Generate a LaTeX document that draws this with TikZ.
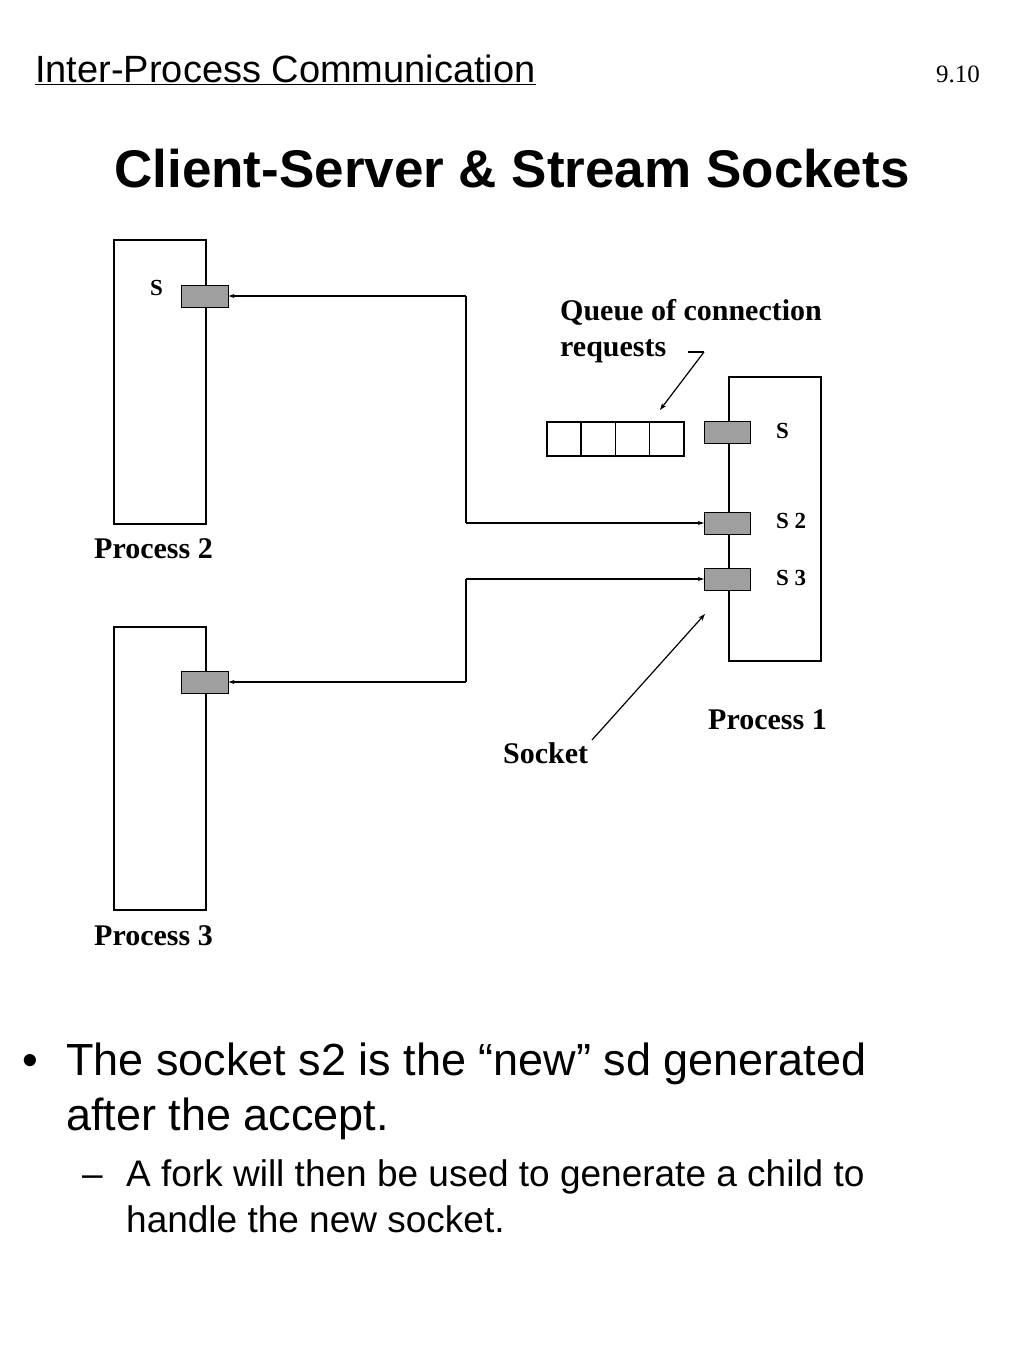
\documentclass[tikz,border=0pt]{standalone}
\usepackage{fontspec}
\setmainfont{Liberation Serif}
\newfontfamily\sansf{Liberation Sans}
\usetikzlibrary{arrows.meta}
\begin{document}
\begin{tikzpicture}[x=1pt,y=-1pt,
  proc/.style={draw,line width=1.6pt},
  sock/.style={draw,line width=1pt,fill=gray!75},
  wire/.style={line width=1.6pt},
  arr/.style={wire,-{Stealth[length=6pt,width=4pt]}},
  lbl/.style={font=\fontsize{30}{34}\selectfont\bfseries,anchor=base west,inner sep=0},
  slbl/.style={font=\fontsize{23}{27}\selectfont\bfseries,anchor=base west,inner sep=0},
  big/.style={anchor=base west,inner sep=0,font=\sansf\fontsize{45}{54}\selectfont},
  mid/.style={anchor=base west,inner sep=0,font=\sansf\fontsize{37}{45}\selectfont}]
\useasboundingbox (0,0) rectangle (1024,1365);
% header
\node[anchor=base west,inner sep=0,font=\sansf\fontsize{38}{42}\selectfont] (hdr) at (35,82) {\underline{Inter-Process Communication}};
\node[anchor=base east,inner sep=0,font=\fontsize{25}{28}\selectfont] (num) at (980,82) {9.10};
\node[anchor=base,inner sep=0,font=\sansf\bfseries\fontsize{53}{58}\selectfont] (title) at (512,187) {Client-Server \& Stream Sockets};
% process 2
\node[proc,minimum width=92,minimum height=284,anchor=north west,inner sep=0] (p2) at (113,239) {};
\node[sock,minimum width=47,minimum height=22,inner sep=0] (s2a) at (204.5,296) {};
\node[slbl] (s2l) at (150,295) {S};
\node[lbl] (p2l) at (94,558) {Process 2};
% process 3
\node[proc,minimum width=92,minimum height=283,anchor=north west,inner sep=0] (p3) at (113,626) {};
\node[sock,minimum width=47,minimum height=22,inner sep=0] (s3a) at (204.5,682) {};
\node[lbl] (p3l) at (94,945) {Process 3};
% process 1
\node[proc,minimum width=92,minimum height=284,anchor=north west,inner sep=0] (p1) at (728,376) {};
\node[sock,minimum width=46,minimum height=22,inner sep=0] (s1) at (727.5,432) {};
\node[sock,minimum width=46,minimum height=22,inner sep=0] (s12) at (727.5,523) {};
\node[sock,minimum width=46,minimum height=22,inner sep=0] (s13) at (727.5,579) {};
\node[slbl] (s1l) at (776,438) {S};
\node[slbl] (s12l) at (776,528) {S 2};
\node[slbl] (s13l) at (776,585) {S 3};
\node[lbl] (p1l) at (708,729) {Process 1};
% queue
\foreach \i in {0,1,2,3} \node[draw,line width=1.6pt,minimum width=34.25,minimum height=34,inner sep=0,anchor=north west] (q\i) at (546+34.25*\i,421) {};
\node[lbl] (ql1) at (560,320) {Queue of connection};
\node[lbl] (ql2) at (560,356) {requests};
\coordinate (qa) at (704,352);
\coordinate (qb) at (688,352);
\coordinate (qt) at (660,410);
\draw[wire,line width=1.2pt] (qb) -- (qa);
\draw[line width=1.2pt,-{Stealth[length=7pt,width=5pt]}] (qa) -- (qt);
% socket label
\node[lbl] (sk) at (503,763) {Socket};
\coordinate (ska) at (592,740);
\coordinate (skb) at (705,614);
\draw[line width=1.2pt,-{Stealth[length=7pt,width=5pt]}] (ska) -- (skb);
% wires
\coordinate (j1) at (466,296);
\coordinate (j2) at (466,523);
\coordinate (j3) at (466,579);
\coordinate (j4) at (466,682);
\draw[arr] (j1) -- (s2a.east);
\draw[wire] (j1) -- (j2);
\draw[arr] (j2) -- (s12.west);
\draw[arr] (j3) -- (s13.west);
\draw[wire] (j3) -- (j4);
\draw[arr] (j4) -- (s3a.east);
% bullets
\node[big] (bd) at (22,1075) {•};
\node[big] (b1a) at (66,1075) {The socket s2 is the “new” sd generated};
\node[big] (b1b) at (66,1130) {after the accept.};
\node[mid] (b2d) at (82,1186) {–};
\node[mid] (b2a) at (126,1186) {A fork will then be used to generate a child to};
\node[mid] (b2b) at (126,1232) {handle the new socket.};
\end{tikzpicture}
\end{document}
